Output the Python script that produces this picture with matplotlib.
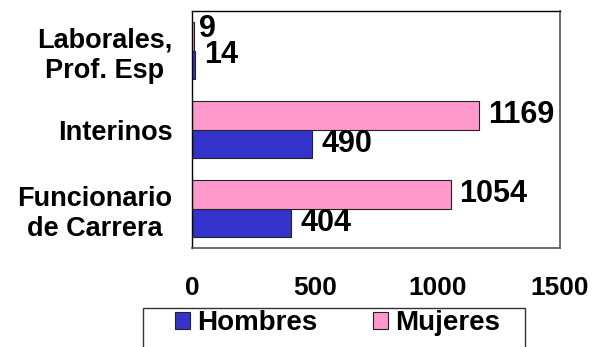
import matplotlib
matplotlib.use("Agg")
import matplotlib.pyplot as plt
from matplotlib.patches import Patch, Rectangle

plt.rcParams['font.family'] = ['Liberation Sans', 'DejaVu Sans']
plt.rcParams['font.weight'] = 'bold'

# Data
categories = ["Funcionario\nde Carrera", "Interinos", "Laborales,\nProf. Esp"]
hombres = [404, 490, 14]
mujeres = [1054, 1169, 9]
series_names = ["Hombres", "Mujeres"]
x_ticks = [0, 500, 1000, 1500]

color_h = "#3333CC"
color_m = "#FF99CC"

W, H, DPI = 593, 347, 100
fig = plt.figure(figsize=(W / DPI, H / DPI), dpi=DPI)
ax = fig.add_axes([192 / W, 1 - 248 / H, (560 - 192) / W, (248 - 11) / H])

ypos = list(range(len(categories)))
bh = 0.36
bars_h = ax.barh([y - bh / 2 for y in ypos], hombres, height=bh,
                 color=color_h, edgecolor="#222222", linewidth=0.8)
bars_m = ax.barh([y + bh / 2 for y in ypos], mujeres, height=bh,
                 color=color_m, edgecolor="#222222", linewidth=0.8)

ax.set_xlim(0, 1500)
ax.set_ylim(-0.5, 2.5)
ax.set_xticks(x_ticks)
ax.set_xticklabels([str(t) for t in x_ticks], fontsize=19, fontweight='bold')
ax.set_yticks(ypos)
ax.set_yticklabels(categories, fontsize=19.5, fontweight='bold',
                   multialignment='center', linespacing=1.2)
ax.tick_params(axis='x', length=0, pad=20)
ax.tick_params(axis='y', length=0, pad=14)

for side in ["left", "top"]:
    ax.spines[side].set_color("black")
    ax.spines[side].set_linewidth(1.0)
for side in ["right", "bottom"]:
    ax.spines[side].set_color("#555555")
    ax.spines[side].set_linewidth(1.2)

# Value labels (offsets in points; the small group is nudged up for room)
label_off_h = [(6.5, 0), (6.5, 0), (6.5, 7.0)]
label_off_m = [(6.5, 0), (6.5, 0), (3.5, 5.0)]
for bars, vals, offs in [(bars_h, hombres, label_off_h), (bars_m, mujeres, label_off_m)]:
    for b, v, (dx, dy) in zip(bars, vals, offs):
        ax.annotate(str(v), xy=(v, b.get_y() + b.get_height() / 2),
                    xytext=(dx, dy), textcoords="offset points",
                    ha="left", va="center", fontsize=22, fontweight='bold')

# Legend
handles = [Patch(facecolor=color_h, edgecolor="#222222", linewidth=0.8),
           Patch(facecolor=color_m, edgecolor="#222222", linewidth=0.8)]
fig.legend(handles, series_names, loc="center left",
           bbox_to_anchor=(175 / W, 1 - 323 / H), ncol=2, frameon=False,
           prop={'weight': 'bold', 'size': 20},
           handlelength=0.55, handleheight=0.55, handletextpad=0.25,
           columnspacing=2.0, borderpad=0, borderaxespad=0)
fig.patches.append(Rectangle((143 / W, -0.05), (525 - 143) / W, (1 - 308 / H) + 0.05,
                             transform=fig.transFigure, fill=False,
                             edgecolor="#333333", linewidth=1.0))

fig.savefig("out.png", dpi=DPI)
